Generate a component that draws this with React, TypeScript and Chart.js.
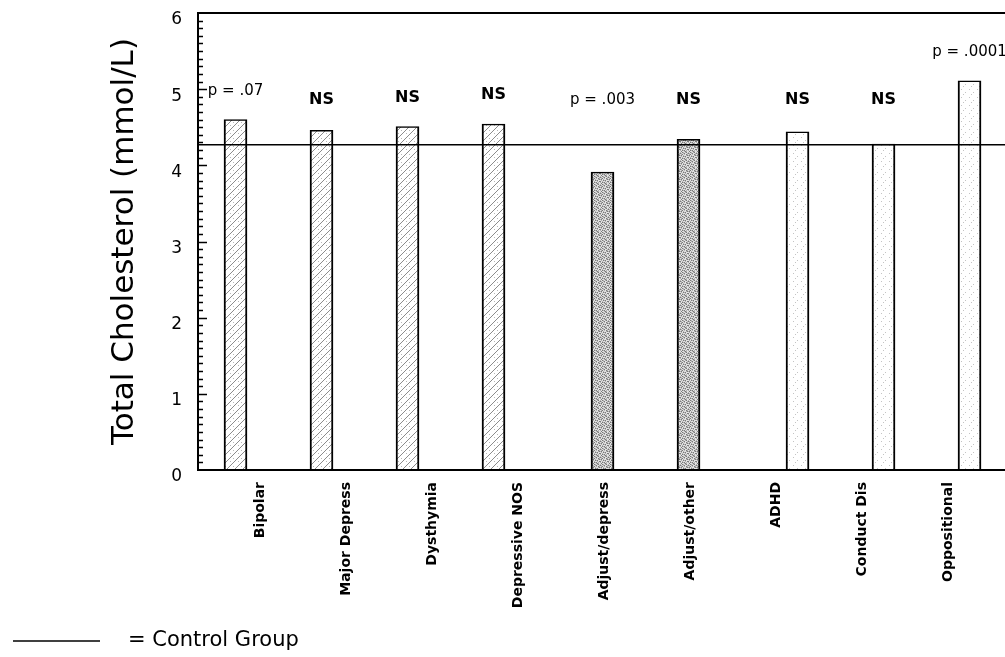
import { useEffect, useRef } from "react";
import { Chart, registerables } from "chart.js";

Chart.register(...registerables);

// Diagnostic categories along the x axis
const CATEGORIES = [
  "Bipolar",
  "Major Depress",
  "Dysthymia",
  "Depressive NOS",
  "Adjust/depress",
  "Adjust/other",
  "ADHD",
  "Conduct Dis",
  "Oppositional",
];

// Mean total cholesterol (mmol/L) for each diagnosis
const CHOLESTEROL = [4.6, 4.46, 4.51, 4.54, 3.91, 4.34, 4.44, 4.28, 5.11];

// Diagnosis family of each category (index into DIAGNOSIS_GROUPS)
const DIAGNOSIS_GROUP = [0, 0, 0, 0, 1, 1, 2, 2, 2];
const DIAGNOSIS_GROUPS = ["Mood disorders", "Adjustment disorders", "Disruptive disorders"];

// Comparison with the control group
const SIGNIFICANCE = ["p = .07", "NS", "NS", "NS", "p = .003", "NS", "NS", "NS", "p = .0001"];

// Control group mean (mmol/L)
const CONTROL_MEAN = 4.27;

// Y axis labels
const Y_TICKS = [0, 1, 2, 3, 4, 5, 6];

const FAMILY = "'DejaVu Sans', 'Liberation Sans', sans-serif";
const X_MIN = -0.7035;
const X_MAX = 8.68;

// Fill textures for the three diagnosis families
function makePattern(kind: number): CanvasPattern | string {
  const c = document.createElement("canvas");
  const s = 8;
  c.width = s;
  c.height = s;
  const g = c.getContext("2d");
  if (!g) return "#ddd";
  if (kind === 0) {
    g.fillStyle = "#ffffff";
    g.fillRect(0, 0, s, s);
    g.strokeStyle = "#8c8c8c";
    g.lineWidth = 1;
    g.beginPath();
    g.moveTo(-1, s + 1);
    g.lineTo(s + 1, -1);
    g.moveTo(-1, 1);
    g.lineTo(1, -1);
    g.moveTo(s - 1, s + 1);
    g.lineTo(s + 1, s - 1);
    g.stroke();
    g.fillStyle = "#b8b8b8";
    g.fillRect(1, 2, 1, 1);
    g.fillRect(6, 5, 1, 1);
  } else if (kind === 1) {
    const rows = [
      "+.#+.+#.",
      "#+.+#..+",
      ".+#.+.#+",
      "+#.+..+#",
      ".+.#+#..",
      "#.+..+.#",
      "+.#+#.+.",
      ".#..+#+.",
    ];
    const shade: Record<string, string> = { "#": "#7a7a7a", "+": "#b2b2b2", ".": "#e2e2e2" };
    rows.forEach((row, y) => {
      for (let x = 0; x < s; x++) {
        g.fillStyle = shade[row[x]];
        g.fillRect(x, y, 1, 1);
      }
    });
  } else {
    g.fillStyle = "#ffffff";
    g.fillRect(0, 0, s, s);
    g.fillStyle = "#c4c4c4";
    g.fillRect(1, 1, 1, 1);
    g.fillRect(5, 4, 1, 1);
    g.fillRect(3, 6, 1, 1);
  }
  return g.createPattern(c, "repeat") || "#ddd";
}

// Small inward tick marks every 0.1 along the y axis
const minorTicks = {
  id: "minorTicks",
  afterDraw(chart: any) {
    const { ctx, chartArea } = chart;
    const y = chart.scales.y;
    ctx.save();
    ctx.strokeStyle = "#000";
    ctx.lineWidth = 1.5;
    for (let k = 1; k < 60; k++) {
      const py = Math.round(y.getPixelForValue(k / 10)) + 0.5;
      const len = k % 10 === 0 ? 9 : 5;
      ctx.beginPath();
      ctx.moveTo(chartArea.left, py);
      ctx.lineTo(chartArea.left + len, py);
      ctx.stroke();
    }
    ctx.restore();
  },
};

// Significance notes above each bar
const significanceNotes = {
  id: "significanceNotes",
  afterDatasetsDraw(chart: any) {
    const { ctx } = chart;
    const y = chart.scales.y;
    ctx.save();
    ctx.fillStyle = "#000";
    ctx.textAlign = "center";
    ctx.textBaseline = "middle";
    CATEGORIES.forEach((_, i) => {
      const bar = chart.getDatasetMeta(DIAGNOSIS_GROUP[i]).data[i];
      if (!bar) return;
      const text = SIGNIFICANCE[i];
      const level = Math.max(CHOLESTEROL[i] + 0.38, 4.86);
      ctx.font = text === "NS" ? `bold 16px ${FAMILY}` : `15px ${FAMILY}`;
      ctx.fillText(text, bar.x, y.getPixelForValue(level));
    });
    ctx.restore();
  },
};

// Key for the control-group reference line
const controlKey = {
  id: "controlKey",
  afterDraw(chart: any) {
    const { ctx } = chart;
    const ky = 641;
    ctx.save();
    ctx.strokeStyle = "#000";
    ctx.lineWidth = 1.5;
    ctx.beginPath();
    ctx.moveTo(13, ky);
    ctx.lineTo(100, ky);
    ctx.stroke();
    ctx.fillStyle = "#000";
    ctx.font = `21px ${FAMILY}`;
    ctx.textAlign = "left";
    ctx.textBaseline = "middle";
    ctx.fillText("= Control Group", 128, ky);
    ctx.restore();
  },
};

export default function App() {
  const canvasRef = useRef<HTMLCanvasElement | null>(null);

  useEffect(() => {
    const canvas = canvasRef.current;
    if (!canvas) return;
    const patterns = DIAGNOSIS_GROUPS.map((_, g) => makePattern(g));

    const barSets = DIAGNOSIS_GROUPS.map((name, g) => ({
      type: "bar" as const,
      label: name,
      data: CATEGORIES.map((_, i) => ({
        x: i,
        y: DIAGNOSIS_GROUP[i] === g ? CHOLESTEROL[i] : null,
      })),
      backgroundColor: patterns[g],
      borderColor: "#000",
      borderWidth: { left: 2, right: 2, top: 1.5, bottom: 0 },
      borderSkipped: "start" as const,
      barThickness: 23,
      order: 1,
    }));

    const controlLine = {
      type: "line" as const,
      label: "Control Group",
      data: [
        { x: X_MIN, y: CONTROL_MEAN },
        { x: X_MAX, y: CONTROL_MEAN },
      ],
      borderColor: "#000",
      borderWidth: 1.5,
      pointRadius: 0,
      order: 0,
    };

    const chart = new Chart(canvas, {
      type: "bar",
      data: { datasets: [...barSets, controlLine] as any },
      options: {
        responsive: false,
        animation: false,
        devicePixelRatio: 1,
        layout: { padding: { top: 13, left: 0, right: 0, bottom: 0 } },
        plugins: {
          legend: { display: false },
          tooltip: { enabled: false },
        },
        scales: {
          x: {
            type: "linear",
            min: X_MIN,
            max: X_MAX,
            offset: false,
            afterBuildTicks: (s: any) => {
              s.ticks = CATEGORIES.map((_, i) => ({ value: i }));
            },
            afterFit: (s: any) => {
              s.height = 187;
            },
            grid: { display: false, drawTicks: false, offset: false },
            border: { display: true, color: "#000", width: 2 },
            ticks: {
              autoSkip: false,
              minRotation: 90,
              maxRotation: 90,
              padding: 12,
              labelOffset: 2,
              color: "#000",
              font: { family: FAMILY, size: 14, weight: "bold" },
              callback: (_v: any, i: number) => CATEGORIES[i] ?? "",
            },
          },
          y: {
            min: 0,
            max: 6,
            afterBuildTicks: (s: any) => {
              s.ticks = Y_TICKS.map((v) => ({ value: v }));
            },
            afterFit: (s: any) => {
              s.width = 198;
              s.paddingTop = 0;
              s.paddingBottom = 0;
            },
            grid: {
              drawTicks: false,
              lineWidth: 2,
              color: (c: any) => (c.tick && c.tick.value === 6 ? "#000" : "rgba(0,0,0,0)"),
            },
            border: { display: true, color: "#000", width: 2 },
            ticks: {
              color: "#000",
              padding: 16,
              labelOffset: 7,
              font: { family: FAMILY, size: 17 },
            },
            title: {
              display: true,
              text: "Total Cholesterol (mmol/L)",
              color: "#000",
              font: { family: FAMILY, size: 31 },
              padding: { top: 106, bottom: 0 },
            },
          },
        },
      } as any,
      plugins: [minorTicks, significanceNotes, controlKey],
    });

    return () => chart.destroy();
  }, []);

  return (
    <div style={{ position: "absolute", left: 0, top: 0, width: 1005, height: 657, background: "#fff" }}>
      <canvas ref={canvasRef} width={1005} height={657} style={{ display: "block" }} />
    </div>
  );
}
